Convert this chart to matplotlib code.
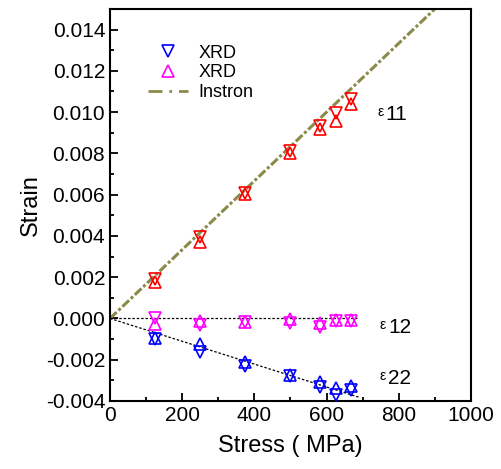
import matplotlib
matplotlib.use("Agg")
import matplotlib.pyplot as plt
from matplotlib.lines import Line2D
from matplotlib.ticker import MultipleLocator

plt.rcParams['font.family'] = ['Liberation Sans', 'DejaVu Sans']

# stress levels (MPa) of the XRD measurements
stress = [125, 250, 375, 500, 583, 625, 667]

# eps11 (red), two measurements each
e11_up = [0.00176, 0.00372, 0.00602, 0.00800, 0.00917, 0.00958, 0.01040]
e11_down = [0.00192, 0.00395, 0.00608, 0.00812, 0.00933, 0.00995, 0.01062]

# eps12 (magenta)
e12_up = [-0.00026, -0.00010, -0.00015, -0.00002, -0.00020, -0.00006, -0.00006]
e12_down = [0.00000, -0.00030, -0.00018, -0.00024, -0.00042, -0.00010, -0.00014]

# eps22 (blue)
e22_up = [-0.00094, -0.00123, -0.00212, -0.00275, -0.00310, -0.00337, -0.00325]
e22_down = [-0.00100, -0.00162, -0.00230, -0.00280, -0.00330, -0.00369, -0.00345]

# Instron line and linear fits
instron_x = [0, 900]
instron_y = [0, 0.015]
fit12_x = [0, 685]
fit12_y = [0, 0]
fit22_x = [0, 692]
fit22_y = [0, -0.00383]

fig = plt.figure(figsize=(5.01, 4.69), dpi=100)
ax = fig.add_axes([0.2196, 0.145, 0.7204, 0.836])

olive = '#8a8a4a'
ax.plot(instron_x, instron_y, color=olive, lw=2.2, ls=(0, (3, 0.8, 1, 0.8)), zorder=2)
ax.plot(fit12_x, fit12_y, color='black', lw=0.9, ls=(0, (2, 1.5)), zorder=2)
ax.plot(fit22_x, fit22_y, color='black', lw=0.9, ls=(0, (2, 1.5)), zorder=2)

mk = dict(ms=8, mfc='none', mew=1.2, ls='none', zorder=3)
ax.plot(stress, e11_up, marker='^', mec='red', **mk)
ax.plot(stress, e11_down, marker='v', mec='red', **mk)
ax.plot(stress, e12_up, marker='^', mec='magenta', **mk)
ax.plot(stress, e12_down, marker='v', mec='magenta', **mk)
ax.plot(stress, e22_up, marker='^', mec='blue', **mk)
ax.plot(stress, e22_down, marker='v', mec='blue', **mk)

# legend handles
h1 = Line2D([], [], marker='v', mec='blue', **mk)
h2 = Line2D([], [], marker='^', mec='magenta', **mk)
h3 = Line2D([], [], color=olive, lw=2.0, ls=(0, (5, 2.5, 1, 2.5)))
ax.legend([h1, h2, h3], ['XRD', 'XRD', 'Instron'], loc='upper left',
          bbox_to_anchor=(0.06, 0.95), frameon=False, fontsize=13,
          handlelength=2.2, handletextpad=0.6, labelspacing=0.15)

# strain component labels
for lab, x, y in [('11', 740, 0.0096), ('12', 748, -0.00070), ('22', 748, -0.0032)]:
    ax.text(x, y + 0.0002, 'ε', fontsize=10)
    ax.text(x + 22, y, lab, fontsize=15)

ax.set_xlim(0, 1000)
ax.set_ylim(-0.004, 0.015)
ax.xaxis.set_major_locator(MultipleLocator(200))
ax.xaxis.set_minor_locator(MultipleLocator(100))
ax.yaxis.set_major_locator(MultipleLocator(0.002))
ax.yaxis.set_minor_locator(MultipleLocator(0.001))
ax.yaxis.set_major_formatter(lambda v, p: f"{v:.3f}")
ax.tick_params(which='both', direction='in', labelsize=15, width=1.3)
ax.tick_params(which='major', length=6)
ax.tick_params(which='minor', length=3)
for s in ax.spines.values():
    s.set_linewidth(1.5)

ax.set_xlabel('Stress ( MPa)', fontsize=17, labelpad=7)
ax.set_ylabel('Strain', fontsize=17, labelpad=3)

fig.savefig('out.png', dpi=100)
